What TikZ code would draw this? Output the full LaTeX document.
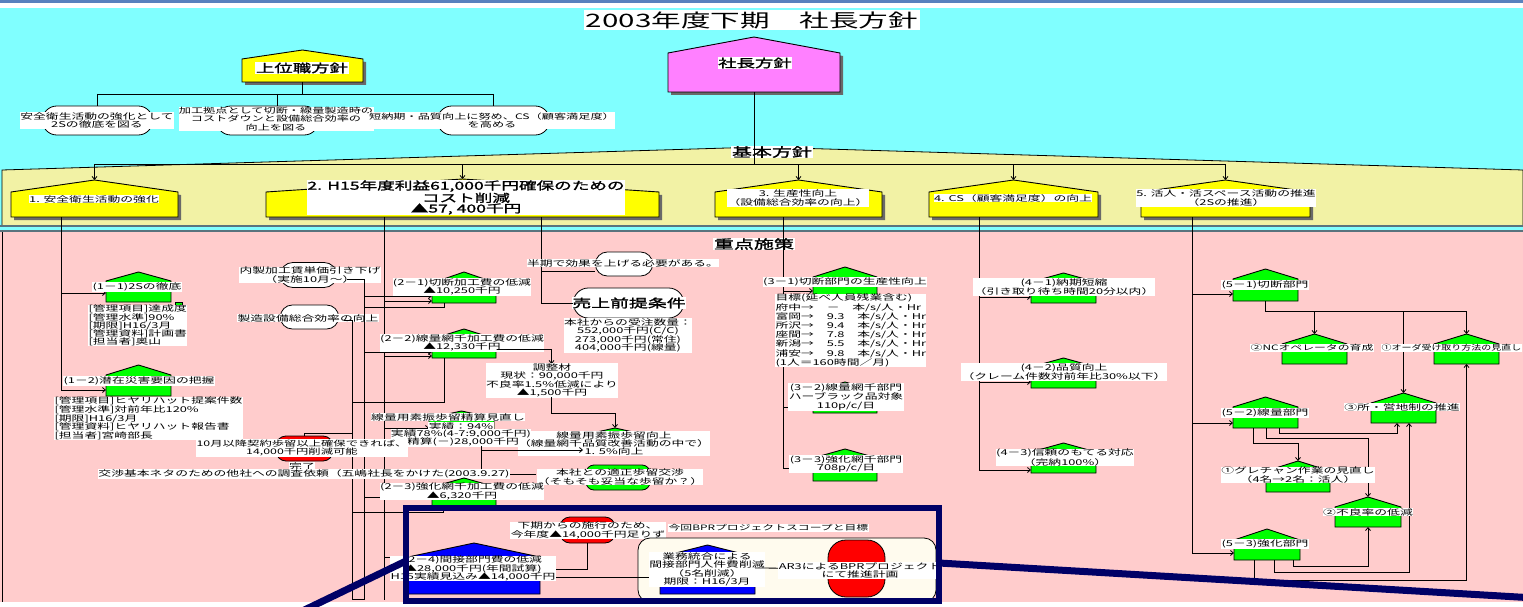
\documentclass[tikz,border=0pt]{standalone}
\usepackage{fontspec}
\usepackage{graphicx}
\newfontfamily\jp[FakeStretch=1.6]{Noto Sans CJK JP}
\newfontfamily\jpn[FakeStretch=1.35]{Noto Sans CJK JP}
\newfontfamily\jpb[FakeStretch=1.6,FakeBold=1.6]{Noto Sans CJK JP}
\usetikzlibrary{arrows.meta,fit,calc,shapes.misc}
\definecolor{topblue}{RGB}{88,130,190}
\definecolor{cyanbg}{RGB}{128,255,255}
\definecolor{bandy}{RGB}{242,242,165}
\definecolor{pinkbg}{RGB}{255,204,204}
\definecolor{yel}{RGB}{255,255,0}
\definecolor{grn}{RGB}{0,255,0}
\definecolor{mag}{RGB}{255,128,255}
\definecolor{blu}{RGB}{0,0,255}
\definecolor{rd}{RGB}{255,0,0}
\definecolor{navy}{RGB}{0,0,102}
\definecolor{beige}{RGB}{255,251,238}
\definecolor{shd}{RGB}{105,105,105}
\definecolor{stripe}{RGB}{90,115,125}
% house: name, fill, xL, xR, yPeak, yShoulder, yBottom, shadow style
\newcommand\hous[8]{%
  \path[#8] (#3,#7) -- (#4,#7) -- (#4,#6) -- ({(#3+#4)/2},#5) -- (#3,#6) -- cycle;
  \path[hz, fill=#2] (#3,#7) -- (#4,#7) -- (#4,#6) -- ({(#3+#4)/2},#5) -- (#3,#6) -- cycle;
  \node[inner sep=0pt, outer sep=0pt, fit={(#3,#5) (#4,#7)}] (#1) {};}
\begin{document}
\begin{tikzpicture}[x=1pt,y=-1pt,
  hz/.style={draw=black, line width=0.9pt, line join=miter},
  sh/.style={fill=shd, shift={(3,3)}},
  nosh/.style={},
  lb/.style={fill=white, inner sep=0.4pt, font=\jp\fontsize{8}{8.4}\selectfont, align=center},
  ll/.style={lb, align=left, anchor=west},
  bl/.style={fill=white, inner sep=0.6pt, font=\jpb\fontsize{11.5}{12}\selectfont, align=center},
  ln/.style={line width=0.8pt},
  arr/.style={ln, -{Straight Barb[length=3pt,width=5pt]}},
  ov/.style={draw, line width=0.8pt, fill=white, rounded rectangle},
]
\useasboundingbox (0,0) rectangle (1523,607);
% ---------- backgrounds
\fill[white] (0,0) rectangle (1523,607);
\fill[topblue] (0,0) rectangle (1523,3.5);
\fill[cyanbg] (0,8) rectangle (1523,231);
\filldraw[fill=bandy, draw=black, line width=0.8pt] (2,226) -- (2,170) -- (760,147) -- (1523,170) -- (1523,226);
\fill[pinkbg] (0,232) rectangle (1523,602);
\draw[stripe, line width=1.5pt] (0,226) -- (1523,226);
\draw[stripe, line width=1.5pt] (0,231) -- (1523,231);
\draw[line width=0.8pt] (2,232) -- (2,602);

% ---------- title and top level
\node[fill=white, inner sep=1.5pt, font=\jp\fontsize{18.5}{20}\selectfont] (title) at (752,20) {2003年度下期　社長方針};
\hous{sha}{mag}{668}{840}{37}{53}{92}{sh}
\node[bl] (shal) at (755,63) {社長方針};
\hous{jou}{yel}{242}{363}{50}{59}{82}{sh}
\node[bl] (joul) at (302,68) {上位職方針};

\node[ov, minimum width=117pt, minimum height=29pt] (o1) at (97.5,120.5) {};
\node[lb] (o1t) at (97,120.5) {安全衛生活動の強化として\\2Sの徹底を図る};
\node[ov, minimum width=109pt, minimum height=29pt] (o2) at (267.5,120.5) {};
\node[lb, font=\jp\fontsize{7.6}{8.4}\selectfont] (o2t) at (276,119) {加工拠点として切断・線量製造時の\\コストダウンと設備総合効率の\\向上を図る};
\node[ov, minimum width=119pt, minimum height=29pt] (o3) at (493.5,120.5) {};
\node[lb, font=\jp\fontsize{7.6}{8.4}\selectfont] (o3t) at (492,120.5) {短納期・品質向上に努め、CS（顧客満足度）\\を高める};

\draw[ln] (jou.south) -- (jou.south |- 0,94);
\draw[ln] (o1.north |- 0,94) -- (o3.north |- 0,94);
\draw[ln] (o1.north |- 0,94) -- (o1.north);
\draw[ln] (277,94) -- (277,106);
\draw[ln] (o3.north |- 0,94) -- (o3.north);

% ---------- basic policy band
\node[bl, font=\jpb\fontsize{12.5}{13}\selectfont] (kihon) at (772,152) {基本方針};
\hous{b1}{yel}{11}{178}{180}{192}{217}{sh}
\hous{b2}{yel}{266}{659}{179}{192}{217}{sh}
\hous{b3}{yel}{715}{882}{180}{192}{217}{sh}
\hous{b4}{yel}{929}{1098}{180}{192}{217}{sh}
\hous{b5}{yel}{1141}{1310}{180}{192}{217}{sh}
\draw[ln] (sha.south) -- (sha.south |- 0,164);
\draw[ln] (b1.north |- 0,164) -- (b5.north |- 0,164);
\foreach \b in {b1,b2,b3,b4,b5} \draw[arr] (\b.north |- 0,164) -- (\b.north);
\node[lb] (b1l) at (94,199) {1. 安全衛生活動の強化};
\node[bl, font=\jpb\fontsize{11}{10.5}\selectfont] (b2l) at (466,197.5) {2. H15年度利益61,000千円確保のための\\コスト削減\\▲57, 400千円};
\node[lb, font=\jp\fontsize{8}{9.5}\selectfont] (b3l) at (798,198) {3. 生産性向上\\（設備総合効率の向上）};
\node[lb] (b4l) at (1013,198) {4. CS（顧客満足度）の向上};
\node[lb, font=\jp\fontsize{8}{9.5}\selectfont] (b5l) at (1226,198) {5. 活人・活スペース活動の推進\\（2Sの推進）};

% ---------- priority measures
\node[bl, font=\jpb\fontsize{12.5}{13}\selectfont] (juten) at (754,244) {重点施策};

% group 1
\draw[ln] (b1.south -| 61,0) -- (61,390);
\hous{h11}{grn}{106}{171}{272}{281}{302}{nosh}
\draw[ln, fill=grn] (175,302) rectangle (182,308);
\draw[arr] (61,293) -- (h11.west |- 0,293);
\node[lb] (h11l) at (137,287) {(1－1)2Sの徹底};
\node[ll, font=\jp\fontsize{8}{8.2}\selectfont] (h11t) at (88,325.5) {[管理項目]達成度\\\relax[管理水準]90\%\\\relax[期限]H16/3月\\\relax[管理資料]計画書\\\relax[担当者]奥山};
\hous{h12}{grn}{106}{171}{365}{375}{396}{nosh}
\draw[arr] (61,390) -- (h12.west |- 0,390);
\node[lb] (h12l) at (139,381) {(1－2)潜在災害要因の把握};
\node[ll, font=\jp\fontsize{8}{8.7}\selectfont] (h12t) at (54,418.5) {[管理項目]ヒヤリハット提案件数\\\relax[管理水準]対前年比120\%\\\relax[期限]H16/3月\\\relax[管理資料]ヒヤリハット報告書\\\relax[担当者]宮崎部長};

% group 2
\node[ov, minimum width=63pt, minimum height=25pt] (o4) at (308.5,275) {};
\node[lb] (o4t) at (310,275) {内製加工賃単価引き下げ\\（実施10月～）};
\node[ov, minimum width=65pt, minimum height=24pt] (o5) at (309.5,317) {};
\node[lb] (o5t) at (308,318) {製造設備総合効率の向上};
\coordinate (v364b) at (364,599);
\coordinate (v352b) at (352,599);
\draw[ln] (347,279) -| (v364b) -- (v352b) -- (352,320) -- (344,320);
\draw[ln] (b2.south -| 384,0) -- (384,600);
\draw[ln] (b2.south -| 541,0) -- (541,303);

\node[ov, minimum width=64pt, minimum height=24pt] (o6) at (624,264) {};
\node[lb] (o6t) at (623,263) {半期で効果を上げる必要がある。};
\draw[ln] (541,271) -- (o6.west |- 0,271);
\node[ov, minimum width=117pt, minimum height=30pt] (o7) at (628.5,303) {};
\node[bl, font=\jpb\fontsize{11.8}{12}\selectfont] (o7t) at (629,303) {売上前提条件};
\draw[ln] (541,303) -- (o7.west);
\node[lb] (o7d) at (628,335.5) {本社からの受注数量：\\552,000千円(C/C)\\273,000千円(常住)\\404,000千円(線量)};

\hous{h21}{grn}{432}{496}{272}{283}{303}{nosh}
\draw[arr] (364,296) -- (h21.west |- 0,296);
\draw[arr] (384,301) -- (h21.west |- 0,301);
\draw[ln] (h21.south -| 444,0) -- (444,307) -- (364,307);
\node[lb] (h21l) at (462,287) {(2－1)切断加工費の低減\\▲10,250千円};

\hous{h22}{grn}{432}{496}{329}{339}{358}{nosh}
\draw[arr] (364,352) -- (h22.west |- 0,352);
\draw[arr] (384,356) -- (h22.west |- 0,356);
\draw[ln] (h22.south -| 444,0) -- (444,402) -- (352,402);
\node[lb] (h22l) at (462,343) {(2－2)線量網千加工費の低減\\▲12,330千円};

\hous{hc}{grn}{520}{583}{364}{373}{397}{nosh}
\draw[arr] (497,349) -| (hc.north);
\node[lb] (hcl) at (552,380.5) {調整材\\現状：90,000千円\\不良率1.5\%低減により\\▲1,500千円};

\hous{hy}{grn}{583}{647}{428}{435}{455}{nosh}
\draw[arr] (hc.south) -- (551.5,413) -| (hy.north);
\node[lb] (hyl) at (614,443.5) {線量用素振歩留向上\\（線量網千品質改善活動の中で）\\1. 5\%向上};

\node[draw, ln, fill=grn, rounded corners=8pt, minimum width=64pt, minimum height=25pt] (hk) at (618,477.5) {};
\node[lb] (hkl) at (620,477) {本社との適正歩留交渉\\（そもそも妥当な歩留か？）};

\hous{hs}{grn}{429}{494}{411}{418}{430}{nosh}
\draw[arr] (384,428) -- (hs.west |- 0,428);
\node[lb] (hsl1) at (448,417) {線量用素振歩留精算見直し};
\node[lb] (hsl2) at (461,426) {実績：94\%};
\node[lb] (hsl3) at (461,434) {実績78\%(4-7:9,000千円)};
\node[lb] (hsl4) at (463,442) {精算(－)28,000千円};
\draw[ln] (481,446) -- (481,472);
\draw[arr] (481,450) -- (hy.west |- 0,450);

\node[draw, ln, fill=rd, rounded corners=10pt, minimum width=57pt, minimum height=25pt] (r1) at (304.5,448.5) {};
\draw[ln] (r1.north) |- (352,433);
\node[lb, font=\jp\fontsize{7.7}{8.4}\selectfont] (r1l) at (302,448) {10月以降契約歩留以上確保できれば、\\14,000千円削減可能};
\node[lb] (r1d) at (302,466) {完了};
\node[lb] (tk) at (304,474) {交渉基本ネタのための他社への調査依頼（五嶋社長をかけた(2003.9.27)};
\draw[ln] (tk.east) -- (hkl.west |- tk.east);

\hous{h23}{grn}{432}{496}{478}{487}{506}{nosh}
\draw[arr] (364,497) -- (h23.west |- 0,497);
\draw[ln] (443,506) -- (443,512) -- (352,512);
\node[lb] (h23l) at (462,491.5) {(2－3)強化網千加工費の低減\\▲6,320千円};

% ---------- BPR frame contents
\node[draw, ln, fill=rd, rounded corners=10pt, minimum width=55pt, minimum height=26pt] (r2) at (587.5,530) {};
\node[lb] (r2l) at (588,530.5) {下期からの施行のため、\\今年度▲14,000千円足りず};
\hous{h24}{blu}{408}{540}{543}{557}{594}{nosh}
\draw[ln] (384,557) -- (h24.west |- 0,557);
\node[lb] (h24l) at (473,568.5) {(2－4)間接部門費の低減\\▲28,000千円(年間試算)\\H15実績見込み▲14,000千円};
\draw[ln] (r2.south) |- (h24l.east |- 0,569);
\node[draw, ln, fill=beige, rounded corners=12pt, minimum width=298pt, minimum height=64pt] (bpr) at (787,570) {};
\node[lb, anchor=west, font=\jp\fontsize{7.4}{8}\selectfont] (bprl) at (668,528) {今回BPRプロジェクトスコープと目標};
\hous{hg}{blu}{660}{755}{545}{557}{594}{nosh}
\draw[arr] (h24l.east |- 0,577) -- (hg.west |- 0,577);
\node[lb] (hgl) at (707,569.5) {業務統合による\\間接部門人件費削減\\（5名削減）\\期限：H16/3月};
\node[draw, ln, fill=rd, rounded corners=18pt, minimum width=57pt, minimum height=57pt] (r3) at (856.5,568.5) {};
\draw[arr] (hg.east |- 0,568) -- (r3.west);
\node[lb] (r3l) at (860,570.5) {AR3によるBPRプロジェクト\\にて推進計画};
\draw[navy, line width=6pt] (406,508) rectangle (939,601);

% ---------- group 3
\draw[ln] (b3.south -| 783,0) -- (783,468);
\hous{h31}{grn}{813}{877}{267}{277}{298}{nosh}
\draw[arr] (783,291) -- (h31.west |- 0,291);
\node[lb] (h31l) at (845,282) {(3－1)切断部門の生産性向上};
\node[ll, font=\jp\fontsize{8}{7.9}\selectfont] (h31t) at (775,330.5) {目標(延べ人員残業含む)\\府中→　－　本/s/人・Hr\\富岡→　9.3　本/s/人・Hr\\所沢→　9.4　本/s/人・Hr\\座間→　7.8　本/s/人・Hr\\新潟→　5.5　本/s/人・Hr\\浦安→　9.8　本/s/人・Hr\\(1人＝160時間／月)};
\hous{h32}{grn}{813}{877}{382}{391}{413}{nosh}
\draw[arr] (783,407) -- (h32.west |- 0,407);
\node[lb] (h32l) at (846,397) {(3－2)線量網千部門\\ハーブラック品対象\\110p/c/日};
\hous{h33}{grn}{813}{877}{449}{458}{481}{nosh}
\draw[arr] (783,468) -- (h33.west |- 0,468);
\node[lb] (h33l) at (846,464) {(3－3)強化網千部門\\708p/c/日};

% ---------- group 4
\draw[ln] (b4.south -| 979,0) -- (979,470);
\hous{h41}{grn}{1031}{1096}{273}{282}{303}{nosh}
\draw[arr] (979,297) -- (h41.west |- 0,297);
\node[lb] (h41l) at (1064,287) {(4－1)納期短縮\\（引き取り待ち時間20分以内）};
\hous{h42}{grn}{1031}{1096}{358}{367}{388}{nosh}
\draw[arr] (979,382) -- (h42.west |- 0,382);
\node[lb] (h42l) at (1064,372) {(4－2)品質向上\\（クレーム件数対前年比30\%以下）};
\hous{h43}{grn}{1031}{1096}{443}{452}{473}{nosh}
\draw[arr] (979,470) -- (h43.west |- 0,470);
\node[lb] (h43l) at (1065,457.5) {(4－3)信頼のもてる対応\\（完納100\%）};

% ---------- group 5
\draw[ln] (b5.south -| 1192,0) -- (1192,553);
\hous{h51}{grn}{1233}{1298}{269}{279}{301}{nosh}
\draw[arr] (1192,294) -- (h51.west |- 0,294);
\node[lb] (h51l) at (1265,285) {(5－1)切断部門};
\hous{s2}{grn}{1282}{1347}{334}{344}{364}{nosh}
\hous{s1}{grn}{1434}{1499}{334}{344}{364}{nosh}
\hous{s3}{grn}{1371}{1436}{393}{403}{423}{nosh}
\draw[ln] (h51.south) -- (h51.south |- 0,311) -- (s1.north |- 0,311);
\draw[arr] (s2.north |- 0,311) -- (s2.north);
\draw[arr] (s3.north |- 0,311) -- (s3.north);
\draw[arr] (s1.north |- 0,311) -- (s1.north);
\node[lb, font=\jp\fontsize{7.4}{8.4}\selectfont] (s2l) at (1312,348) {②NCオペレータの育成};
\node[lb, anchor=east, font=\jpn\fontsize{7.4}{8.4}\selectfont] (s1l) at (1522,348) {①オーダ受け取り方法の見直し};
\node[lb] (s3l) at (1402,407) {③所・営地制の推進};

\hous{h52}{grn}{1233}{1298}{397}{407}{428}{nosh}
\draw[arr] (1192,423) -- (h52.west |- 0,423);
\node[lb] (h52l) at (1265,413) {(5－2)線量部門};
\hous{g1}{grn}{1266}{1330}{461}{471}{492}{nosh}
\hous{g2}{grn}{1335}{1401}{497}{507}{527}{nosh}
\hous{h53}{grn}{1234}{1300}{529}{540}{560}{nosh}
\draw[arr] (1192,553) -- (h53.west |- 0,553);
\draw[arr] (h52.south -| 1253,0) |- (g1.north |- 0,443) -- (g1.north);
\draw[arr] (h52.south -| 1266,0) |- (g2.north |- 0,438) -- (g2.north);
\draw[arr] (h52.south -| 1279,0) |- (1397,433) -- (s3.south -| 1397,0);
\draw[arr] (h53.south -| 1293,0) |- (g2.south |- 0,566) -- (g2.south);
\draw[arr] (h53.south -| 1274,0) |- (1409,572) -- (s3.south -| 1409,0);
\draw[arr] (h53.south -| 1254,0) |- (s1.south |- 0,580) -- (s1.south);
\node[lb] (g1l) at (1298,475) {①グレチャン作業の見直し\\（4名→2名：活人）};
\node[lb] (g2l) at (1368,512) {②不良率の低減};
\node[lb] (h53l) at (1265,544) {(5－3)強化部門};

% ---------- navy callout lines
\draw[navy, line width=7pt] (406,561) -- (294,615);
\draw[navy, line width=7pt] (939,563) -- (1535,598);
\end{tikzpicture}
\end{document}
